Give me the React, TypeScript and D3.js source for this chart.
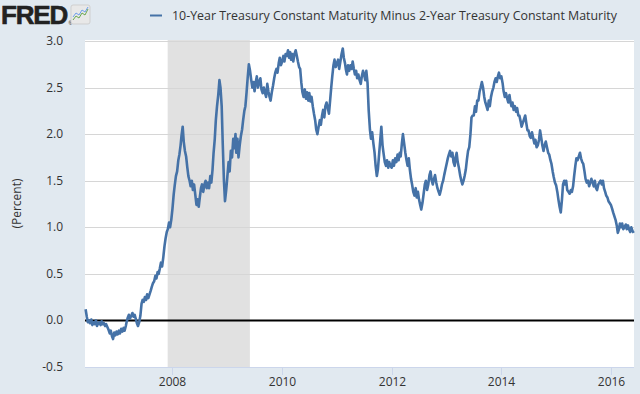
import * as React from "react"
import * as d3 from "d3"

const width = 640
const height = 394
const plot = { left: 85, right: 634, top: 40, bottom: 367 }

const seriesTitle = "10-Year Treasury Constant Maturity Minus 2-Year Treasury Constant Maturity"
const yTicks = [-0.5, 0, 0.5, 1, 1.5, 2, 2.5, 3]
const xTickYears = [2008, 2010, 2012, 2014, 2016]
const recession = [new Date(2007, 11, 1), new Date(2009, 5, 1)]

// spread in percent, about one reading a week (4 per month)
const spread2006 = [ // from June
    0.12, 0.04, -0.02, 0.0,
    -0.03, 0.01, -0.05, -0.02,
    -0.04, 0.0, -0.06, -0.03,
    -0.02, -0.05, -0.01, -0.04,
    -0.03, -0.06, -0.04, -0.07,
    -0.10, -0.14, -0.11, -0.17,
    -0.20, -0.13, -0.16, -0.12,
]
const spread2007 = [
    -0.15, -0.11, -0.14, -0.09,
    -0.12, -0.08, -0.11, -0.06,
    -0.02, 0.03, 0.06, 0.02,
    0.05, 0.08, 0.04, 0.06,
    0.02, -0.03, -0.06, -0.02,
    0.05, 0.18, 0.22, 0.20,
    0.25, 0.22, 0.28, 0.24,
    0.28, 0.32, 0.36, 0.40,
    0.42, 0.48, 0.45, 0.52,
    0.50, 0.56, 0.62, 0.58,
    0.68, 0.80, 0.88, 0.95,
    0.98, 1.05, 1.00, 1.08,
]
const spread2008 = [
    1.20, 1.35, 1.45, 1.55,
    1.60, 1.72, 1.78, 1.88,
    1.98, 2.08, 1.92, 1.82,
    1.76, 1.64, 1.55, 1.50,
    1.44, 1.50, 1.40, 1.46,
    1.35, 1.24, 1.30, 1.22,
    1.32, 1.42, 1.46, 1.38,
    1.46, 1.50, 1.42, 1.48,
    1.42, 1.55, 1.48, 1.62,
    1.80, 1.95, 2.15, 2.30,
    2.42, 2.58, 2.50, 2.30,
    1.90, 1.50, 1.28, 1.40,
]
const spread2009 = [
    1.55, 1.70, 1.60, 1.82,
    1.75, 1.95, 1.85, 2.00,
    1.80, 1.95, 1.75, 1.88,
    1.98, 2.05, 2.15, 2.25,
    2.30, 2.45, 2.60, 2.75,
    2.68, 2.58, 2.50, 2.56,
    2.46, 2.56, 2.62, 2.50,
    2.56, 2.60, 2.48, 2.44,
    2.50, 2.44, 2.40, 2.54,
    2.46, 2.40, 2.36, 2.45,
    2.52, 2.60, 2.66, 2.70,
    2.66, 2.76, 2.82, 2.74,
]
const spread2010 = [
    2.78, 2.84, 2.78, 2.86,
    2.84, 2.90, 2.82, 2.88,
    2.80, 2.86, 2.78, 2.86,
    2.90, 2.84, 2.78, 2.72,
    2.70, 2.55, 2.45, 2.40,
    2.48, 2.38, 2.45, 2.36,
    2.44, 2.35, 2.40, 2.30,
    2.22, 2.15, 2.05, 2.00,
    2.08, 2.15, 2.10, 2.20,
    2.26, 2.18, 2.30, 2.34,
    2.28, 2.22, 2.35, 2.50,
    2.62, 2.74, 2.80, 2.72,
]
const spread2011 = [
    2.76, 2.80, 2.70, 2.78,
    2.86, 2.92, 2.82, 2.76,
    2.70, 2.64, 2.74, 2.68,
    2.74, 2.70, 2.78, 2.70,
    2.64, 2.68, 2.60, 2.64,
    2.58, 2.54, 2.62, 2.68,
    2.64, 2.58, 2.68, 2.55,
    2.25, 2.05, 1.95, 2.02,
    1.90, 1.80, 1.66, 1.55,
    1.62, 1.78, 1.92, 2.08,
    1.88, 1.78, 1.70, 1.66,
    1.72, 1.64, 1.70, 1.66,
]
const spread2012 = [
    1.64, 1.72, 1.66, 1.74,
    1.70, 1.78, 1.72, 1.80,
    1.76, 1.90, 2.00, 1.90,
    1.80, 1.72, 1.66, 1.74,
    1.62, 1.52, 1.46, 1.38,
    1.34, 1.42, 1.32, 1.38,
    1.30, 1.24, 1.19, 1.26,
    1.36, 1.46, 1.50, 1.40,
    1.46, 1.56, 1.60, 1.50,
    1.46, 1.52, 1.56, 1.48,
    1.42, 1.38, 1.35, 1.40,
    1.46, 1.50, 1.56, 1.62,
]
const spread2013 = [
    1.68, 1.74, 1.78, 1.82,
    1.76, 1.80, 1.70, 1.66,
    1.74, 1.80, 1.70, 1.64,
    1.56, 1.50, 1.46, 1.50,
    1.55, 1.62, 1.72, 1.82,
    1.86, 2.00, 2.18, 2.20,
    2.20, 2.30, 2.24, 2.36,
    2.36, 2.46, 2.50, 2.56,
    2.50, 2.40, 2.34, 2.30,
    2.26, 2.36, 2.30, 2.40,
    2.46, 2.50, 2.56, 2.60,
    2.56, 2.62, 2.66, 2.60,
]
const spread2014 = [
    2.62, 2.55, 2.46, 2.40,
    2.44, 2.38, 2.34, 2.42,
    2.36, 2.30, 2.34, 2.26,
    2.30, 2.24, 2.28, 2.20,
    2.20, 2.14, 2.08, 2.12,
    2.16, 2.20, 2.12, 2.04,
    2.04, 1.98, 1.96, 2.02,
    1.96, 1.90, 1.94, 1.86,
    1.88, 1.94, 2.04, 1.96,
    1.88, 1.82, 1.88, 1.92,
    1.86, 1.80, 1.78, 1.72,
    1.68, 1.60, 1.54, 1.48,
]
const spread2015 = [
    1.45, 1.38, 1.30, 1.22,
    1.16, 1.30, 1.46, 1.50,
    1.46, 1.50, 1.40, 1.38,
    1.36, 1.40, 1.38, 1.44,
    1.55, 1.66, 1.74, 1.72,
    1.76, 1.80, 1.74, 1.70,
    1.68, 1.60, 1.52, 1.48,
    1.50, 1.44, 1.48, 1.52,
    1.48, 1.44, 1.50, 1.42,
    1.40, 1.46, 1.48, 1.50,
    1.46, 1.50, 1.42, 1.38,
    1.34, 1.32, 1.28, 1.26,
]
const spread2016 = [ // to early June
    1.24, 1.20, 1.16, 1.12,
    1.08, 1.02, 0.94, 0.98,
    1.04, 1.00, 1.04, 0.98,
    1.00, 1.03, 0.98, 1.02,
    0.98, 0.95, 1.00, 0.96,
    0.94,
]

const yearBlocks: [number, number, number[]][] = [
    [2006, 5, spread2006],
    [2007, 0, spread2007],
    [2008, 0, spread2008],
    [2009, 0, spread2009],
    [2010, 0, spread2010],
    [2011, 0, spread2011],
    [2012, 0, spread2012],
    [2013, 0, spread2013],
    [2014, 0, spread2014],
    [2015, 0, spread2015],
    [2016, 0, spread2016],
]

const points = yearBlocks.flatMap(([year, month0, values]) =>
    values.map((v, i) => ({
        date: new Date(year, month0 + Math.floor(i / 4), 2 + Math.round((i % 4) * 7.5)),
        value: v,
    }))
)

const font = "'Open Sans', sans-serif"

export default function App() {
    const x = d3.scaleTime()
        .domain([new Date(2006, 4, 29), new Date(2016, 5, 4)])
        .range([plot.left, plot.right])
    const y = d3.scaleLinear().domain([-0.5, 3]).range([plot.bottom, 41])

    const line = d3.line<{ date: Date; value: number }>()
        .x((d) => x(d.date))
        .y((d) => y(d.value))

    return (
        <svg width={width} height={height} style={{ position: "absolute", left: 0, top: 0, display: "block" }}>
            <rect width={width} height={height} fill="#e1e9f0" />

            {/* logo */}
            <text x={1} y={24} fontFamily="'Liberation Sans', Arial, sans-serif" fontWeight="bold" fontSize={26}
                letterSpacing={-1.2} stroke="#222" strokeWidth={0.6} fill="#222">
                FRED<tspan fontSize={5} stroke="none" fill="#444" dx={1.5} dy={1}>®</tspan>
            </text>
            <rect x={71} y={5} width={19} height={19} rx={2} fill="#e8e8e8" stroke="#cfcfcf" />
            <polyline points="73,20 76,16 79,18 82,13 85,15 88,9" fill="none" stroke="#6aa84f" strokeWidth={1} />
            <polyline points="73,17 76,13 79,15 82,10 85,12 88,7" fill="none" stroke="#6d9eeb" strokeWidth={1} />

            {/* legend */}
            <line x1={150} x2={162} y1={15.5} y2={15.5} stroke="#4572a7" strokeWidth={2} />
            <text x={172} y={20} fontFamily={font} fontSize={12.4} fill="#333">{seriesTitle}</text>

            {/* plot */}
            <rect x={plot.left} y={plot.top} width={plot.right - plot.left} height={plot.bottom - plot.top} fill="#fff" />
            <rect x={x(recession[0])} y={plot.top} width={x(recession[1]) - x(recession[0])}
                height={plot.bottom - plot.top} fill="#e1e1e1" />
            {yTicks.filter((t) => t > -0.5).map((t) => (
                <line key={t} x1={plot.left} x2={plot.right} y1={Math.round(y(t)) + 0.5} y2={Math.round(y(t)) + 0.5}
                    stroke="#d6d6d6" strokeWidth={1} />
            ))}
            <line x1={plot.left} x2={plot.right} y1={y(0)} y2={y(0)} stroke="#000" strokeWidth={2} />
            <path d={line(points) || ""} fill="none" stroke="#4572a7" strokeWidth={2.6} strokeLinejoin="round" />

            {/* y axis */}
            {yTicks.map((t) => (
                <text key={t} x={63} y={y(t) + 4} textAnchor="end" fontFamily={font} fontSize={12} fill="#333">
                    {t.toFixed(1)}
                </text>
            ))}
            <text transform={`translate(21,${(plot.top + plot.bottom) / 2}) rotate(-90)`} textAnchor="middle"
                fontFamily={font} fontSize={12} fill="#333">(Percent)</text>

            {/* x axis */}
            <line x1={plot.left} x2={plot.right} y1={plot.bottom + 0.5} y2={plot.bottom + 0.5} stroke="#ccd6eb" />
            {xTickYears.map((yr) => {
                const px = Math.round(x(new Date(yr, 0, 1))) + 0.5
                return (
                    <g key={yr}>
                        <line x1={px} x2={px} y1={plot.bottom} y2={plot.bottom + 8} stroke="#ccd6eb" />
                        <text x={px} y={386} textAnchor="middle" fontFamily={font} fontSize={12} fill="#333">{yr}</text>
                    </g>
                )
            })}
        </svg>
    )
}
